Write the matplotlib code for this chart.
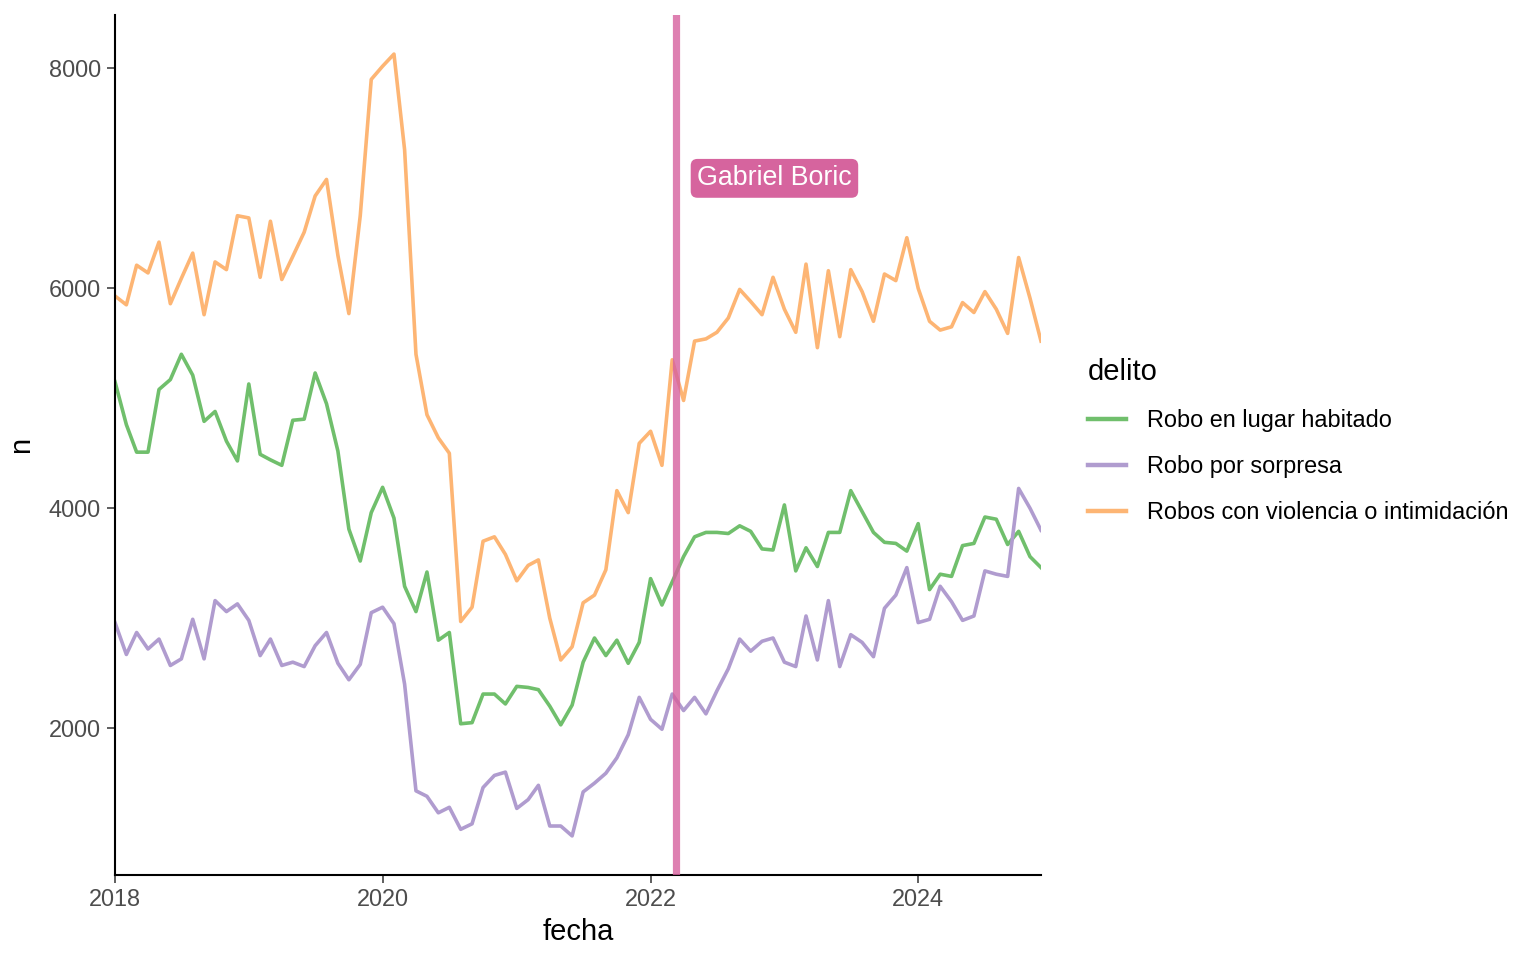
import pandas as pd
import matplotlib
matplotlib.use("Agg")
import matplotlib.pyplot as plt
import matplotlib.dates as mdates

# =========================
# datos (mensual, 2018-01 .. 2024-12)
# =========================
fechas = pd.date_range("2018-01-01", periods=84, freq="MS")

habitado = [
    5150, 4760, 4510, 4510, 5080, 5170, 5400, 5210, 4790, 4880,
    4610, 4430, 5130, 4490, 4440, 4390, 4800, 4810, 5230, 4950,
    4520, 3810, 3520, 3960, 4190, 3910, 3290, 3060, 3420, 2800,
    2870, 2040, 2050, 2310, 2310, 2220, 2380, 2370, 2350, 2200,
    2030, 2210, 2600, 2820, 2660, 2800, 2590, 2780, 3360, 3120,
    3330, 3560, 3740, 3780, 3780, 3770, 3840, 3790, 3630, 3620,
    4030, 3430, 3640, 3470, 3780, 3780, 4160, 3970, 3780, 3690,
    3680, 3610, 3860, 3260, 3400, 3380, 3660, 3680, 3920, 3900,
    3670, 3790, 3560, 3460,
]
sorpresa = [
    2960, 2670, 2870, 2720, 2810, 2570, 2630, 2990, 2630, 3160,
    3060, 3130, 2980, 2660, 2810, 2570, 2600, 2560, 2750, 2870,
    2590, 2440, 2580, 3050, 3100, 2950, 2400, 1430, 1380, 1230,
    1280, 1080, 1130, 1460, 1570, 1600, 1270, 1350, 1480, 1110,
    1110, 1020, 1420, 1500, 1590, 1730, 1940, 2280, 2080, 1990,
    2310, 2160, 2280, 2130, 2340, 2540, 2810, 2700, 2790, 2820,
    2600, 2560, 3020, 2620, 3160, 2560, 2850, 2780, 2650, 3090,
    3210, 3460, 2960, 2990, 3290, 3150, 2980, 3020, 3430, 3400,
    3380, 4180, 4000, 3800,
]
violencia = [
    5930, 5850, 6210, 6140, 6420, 5860, 6090, 6320, 5760, 6240,
    6170, 6660, 6640, 6100, 6610, 6080, 6290, 6510, 6840, 6990,
    6300, 5770, 6660, 7900, 8020, 8130, 7260, 5400, 4850, 4640,
    4500, 2970, 3100, 3700, 3740, 3580, 3340, 3480, 3530, 3000,
    2620, 2740, 3140, 3210, 3440, 4160, 3960, 4590, 4700, 4390,
    5350, 4980, 5520, 5540, 5600, 5730, 5990, 5880, 5760, 6100,
    5810, 5600, 6220, 5460, 6160, 5560, 6170, 5970, 5700, 6130,
    6070, 6460, 6000, 5700, 5620, 5650, 5870, 5780, 5970, 5810,
    5590, 6280, 5910, 5520,
]

series = [
    ("Robo en lugar habitado", habitado, "#70BF6C"),
    ("Robo por sorpresa", sorpresa, "#B09CCF"),
    ("Robos con violencia o intimidación", violencia, "#FDB574"),
]

fecha_boric = pd.Timestamp("2022-03-11")
fecha_label = pd.Timestamp("2022-05-08")
y_label = 7000

# =========================
# estilo
# =========================
plt.rcParams["font.family"] = ["Liberation Sans", "DejaVu Sans"]
TICK_FS = 16.9
TITLE_FS = 21

fig = plt.figure(figsize=(15.36, 9.6), dpi=100)
ax = fig.add_axes([115 / 1536, 1 - 875 / 960, (1041 - 115) / 1536, (875 - 15) / 960])

handles = []
for nombre, valores, color in series:
    h, = ax.plot(fechas, valores, color=color, lw=2.6, label=nombre, zorder=2)
    handles.append(h)

ax.axvline(fecha_boric, color="#D6619E", alpha=0.8, lw=5.2, zorder=3)
ax.text(fecha_label, y_label, "Gabriel Boric", color="white", fontsize=19.3,
        ha="left", va="center", zorder=4,
        bbox=dict(boxstyle="round,pad=0.24,rounding_size=0.25", fc="#D6649E", ec="none"))

# ejes
todos = habitado + sorpresa + violencia
rng = max(todos) - min(todos)
ax.set_ylim(min(todos) - 0.05 * rng, max(todos) + 0.05 * rng)
ax.set_xlim(fechas[0], fechas[-1])
ax.set_yticks([2000, 4000, 6000, 8000])
ax.set_xticks([pd.Timestamp(f"{y}-01-01") for y in (2018, 2020, 2022, 2024)])
ax.xaxis.set_major_formatter(mdates.DateFormatter("%Y"))

for s in ["top", "right"]:
    ax.spines[s].set_visible(False)
for s in ["left", "bottom"]:
    ax.spines[s].set_linewidth(1.5)
    ax.spines[s].set_color("black")

ax.tick_params(axis="both", length=5.5, width=1.1, color="#333333",
               labelsize=TICK_FS, labelcolor="#4D4D4D")
ax.tick_params(axis="x", pad=4)
ax.tick_params(axis="y", pad=4.5)

ax.set_xlabel("fecha", fontsize=TITLE_FS, labelpad=5)
ax.set_ylabel("n", fontsize=TITLE_FS, labelpad=10)

# leyenda
leg = fig.legend(handles=handles, title="delito", loc="upper left",
                 bbox_to_anchor=(1088 / 1536, 1 - 358 / 960),
                 frameon=False, fontsize=TICK_FS, title_fontsize=TITLE_FS,
                 handlelength=1.6, handletextpad=0.9, labelspacing=0.98,
                 borderpad=0, borderaxespad=0, alignment="left")
for lh in leg.get_lines():
    lh.set_linewidth(3.2)

fig.savefig("out.png", dpi=100)
